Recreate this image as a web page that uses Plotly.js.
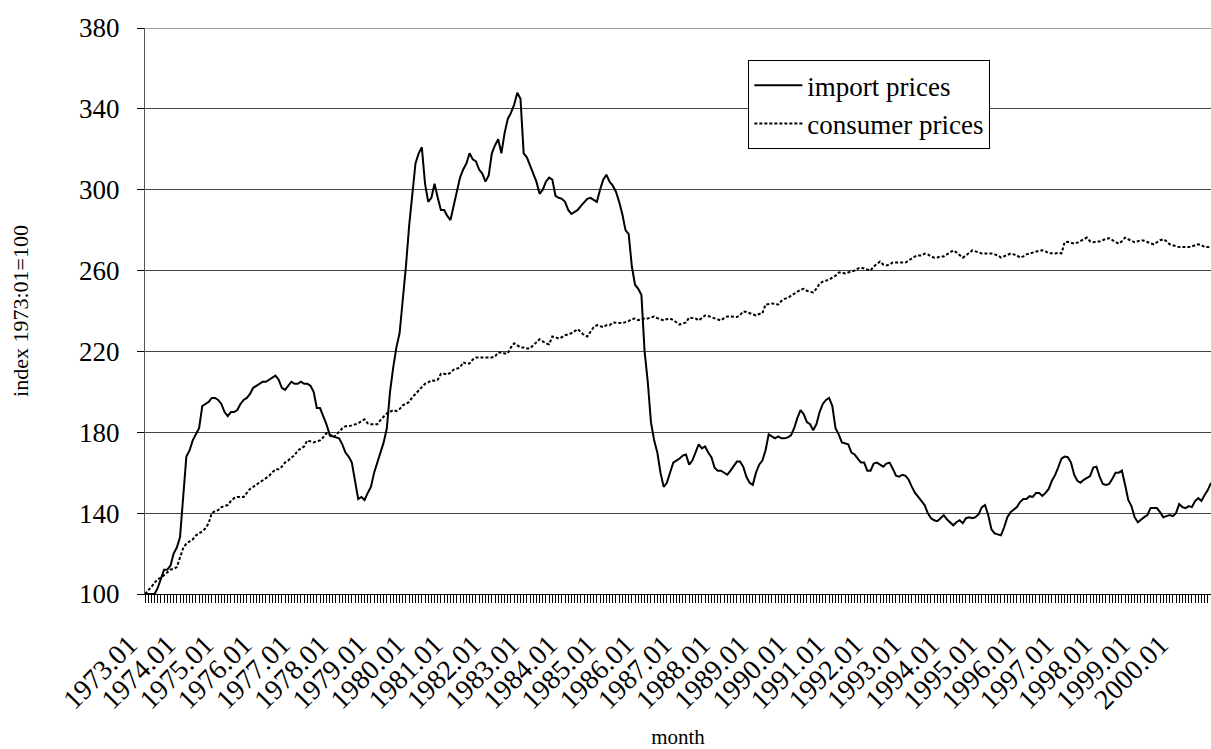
<!DOCTYPE html>
<html>
<head>
<meta charset="utf-8">
<script src="https://cdn.plot.ly/plotly-3.0.1.min.js"></script>
<style>html,body{margin:0;padding:0;background:#fff;}#chart{width:1211px;height:749px;}</style>
</head>
<body>
<div id="chart"></div>
<script>
// Years covered (monthly data, 1973.01 - 2000.12)
const years = [1973,1974,1975,1976,1977,1978,1979,1980,1981,1982,1983,1984,1985,1986,1987,1988,1989,1990,1991,1992,1993,1994,1995,1996,1997,1998,1999,2000];
const monthCodes = ["01","02","03","04","05","06","07","08","09","10","11","12"];
const months = [];
years.forEach(y => monthCodes.forEach(m => months.push(y + "." + m)));

// import prices, index 1973:01=100 (one row per year, Jan..Dec)
const importPrices = [
  100,100,100,100,103,107,112,112,114,120,123,128,
  146,168,171,176,179,182,193,194,195,197,197,196,
  194,190,188,190,190,191,194,196,197,199,202,203,
  204,205,205,206,207,208,206,202,201,203,205,204,
  204,205,204,204,203,200,192,192,188,184,179,178,
  177.5,177,174,170,168,165,156,147,148,146.5,150,153,
  160,165,169,175,182,200,212,222,229,245,262,282,
  298,313,318,321,303,294,296,303,296,290,290,287,
  285,292,298,306,310,313,318,315,314,310,308,304,
  307,318,322,325,318,328,335,338,342,348,345,318,
  316,312,309,304,298,300,304,306,305,297,296,295.5,
  294,290,288,289,290,292,294,295.5,296,295,294,300,
  305,307.4,304,302,299,294,288,280,278,262,253,251,
  248,220,205,185,176,170,160,153,155,160,165,166,
  167,168.5,169,164,166,170,174,172,173,170,167.7,162.5,
  161,161,160,159,161,163,165.5,165.5,163,158,155,154,
  160,164,166,171,179,178,177,178,177,177,177.5,178.5,
  182,187,191,189,185,184,181,184,190,194,196,197,
  193,182,179,175,174.5,174,170,169,167,165,165,161,
  161,164.5,165,164,163,164.5,165,162,158.5,158,159,158.5,
  156.5,153,150,148,146,144,140,137.5,136.5,136,137.5,139,
  137,135.5,134,135.5,136.5,135,137.5,138,137.5,138,139.5,143,
  144,139,132,130,129.5,129,133,138,140.5,142,143,145.5,
  147,147,148.4,148,150,150,148.5,150,152,156,158.8,162.7,
  167,168,167.7,165,159,156,155,156.5,157.5,158.3,162.5,163,
  158,154.5,154,154.5,157,160,160,161,154,146.5,143.5,138,
  135.5,137,138,139,142.5,142.5,142.5,140.5,138,138.5,139,138.5,
  140,144.5,143,142.5,143.5,143,146,147.4,146,149,151.4,155
];

// consumer prices, index 1973:01=100
const consumerPrices = [
  100,101.5,103.5,105.5,107.4,108,109.5,111,112,112.5,113.3,118,
  122.7,125,126,127,129,130,131,132.5,135,140,141,141.5,
  143,143.5,144,146,147.4,148,148,148,150,152,153,154,
  155.3,156,157.3,158.5,160.2,161.7,161.7,163,165,166,167.5,168.6,
  171,172,173,176,175.5,175,175.5,176,177.5,179.5,178.5,177.5,
  178.5,180.5,182,183,183,183.4,184,184.4,185.5,186.4,184.4,184,
  184,184,186,187.5,189.4,190,191,190.5,191.5,193.3,194,195,
  197.3,199,201,202.2,204,204.7,205.7,205.5,206,209,209,208.6,
  209.5,211,211.5,212,214.6,214,214,216,217,217,217,217,
  217,217,217.5,219.5,219.5,219,219,222,224,223,222,222,
  221.5,221.5,223,224,226,225,224,223.5,227.4,227,226.4,227,
  228,228.5,229,230,231,229.5,228,227.4,230,232,233,232.5,
  232,233,233,234.3,234.3,234,234,234.5,235,236,236.3,235.5,
  236,236.3,236.3,236.8,237.3,236.5,235.8,235.3,236,236.3,235.5,234.3,
  233.3,233.8,234.3,236.8,236.5,236.3,235.3,236.5,237.8,237.5,237,236.5,
  236,235.3,236.5,237.3,237.3,237.3,237,238,239.8,239.5,238.8,238.3,
  237.8,238.5,238.8,243.2,243.5,243.7,243.5,243.2,245,246,246.5,247.5,
  248.5,249.2,250.5,251,250,249.5,249.2,251,253.6,254.5,255,255.5,
  256.5,257.5,259,259,258.6,259,259.5,260,261,261.5,261,260.5,
  260,262,263.5,264.5,263,262.5,263,264,264,264,264,264,
  265,266,267,267.5,267.5,268.4,268,267,266.4,266.5,267,267,
  268,269,270,269,267.5,266.4,267.5,269,270,269.5,269,268.4,
  268.4,268.5,268.4,268,267.5,266.4,267,267.5,268.4,268,267.5,266.4,
  267,268,268.5,269,269.5,269.8,270,269.5,268.6,268.4,268.5,268.8,
  268.5,274,274.2,273.8,273.3,273.8,274.5,275.5,276.3,274.5,274,274.4,
  274.4,275,275.8,276,275.2,274,273.3,274.5,276.3,275.5,274.8,274,
  274.5,275,274.8,274,273.5,273,274,275,275.5,274.5,273,272.5,
  271.8,271.6,271.6,271.6,271.6,272,272.7,273,272.5,271.6,271.6,271.8
];

const seriesNames = ["import prices", "consumer prices"];
const yTicks = [100,140,180,220,260,300,340,380];

const font = "'Liberation Serif', 'Times New Roman', serif";

const traces = [
  {x: months, y: importPrices, name: seriesNames[0], type: "scatter", mode: "lines",
   line: {color: "#000", width: 2}},
  {x: months, y: consumerPrices, name: seriesNames[1], type: "scatter", mode: "lines",
   line: {color: "#000", width: 2, dash: "3px,2px"}}
];

const layout = {
  width: 1211, height: 749,
  margin: {l: 145, r: 0, t: 28, b: 155},
  paper_bgcolor: "#fff", plot_bgcolor: "#fff",
  font: {family: font, color: "#000", size: 21},
  showlegend: true,
  legend: {x: 0.566, y: 0.943, xanchor: "left", yanchor: "top",
           bgcolor: "#fff", bordercolor: "#000", borderwidth: 1, itemwidth: 48,
           font: {family: font, size: 27, color: "#000"}, tracegroupgap: 0},
  xaxis: {
    type: "category", range: [0, 335],
    tickmode: "linear", tick0: 0, dtick: 1, ticklabelstep: 12,
    ticks: "outside", ticklen: 8, tickwidth: 1, tickcolor: "#000",
    tickangle: -45, tickfont: {family: font, size: 28},
    ticklabelshift: -16, ticklabelstandoff: 14,
    showgrid: false, showline: true, linecolor: "#000", linewidth: 1,
    zeroline: false, automargin: false,
    title: {text: "month", font: {family: font, size: 21}, standoff: 20}
  },
  yaxis: {
    range: [100, 380], tickmode: "array", tickvals: yTicks,
    ticks: "outside", ticklen: 7, tickcolor: "#000",
    tickfont: {family: font, size: 27}, ticklabelstandoff: 12,
    showgrid: true, gridcolor: "#444", gridwidth: 1,
    showline: true, linecolor: "#555", linewidth: 1,
    zeroline: false, automargin: false,
    title: {text: "index 1973:01=100", font: {family: font, size: 22}, standoff: 44}
  },
  shapes: [
    {type: "line", xref: "paper", yref: "y", x0: 0, x1: 1, y0: yTicks[yTicks.length - 1], y1: yTicks[yTicks.length - 1],
     line: {color: "#444", width: 1}, layer: "below"}
  ]
};

Plotly.newPlot("chart", traces, layout, {displayModeBar: false, staticPlot: true});
</script>
</body>
</html>
